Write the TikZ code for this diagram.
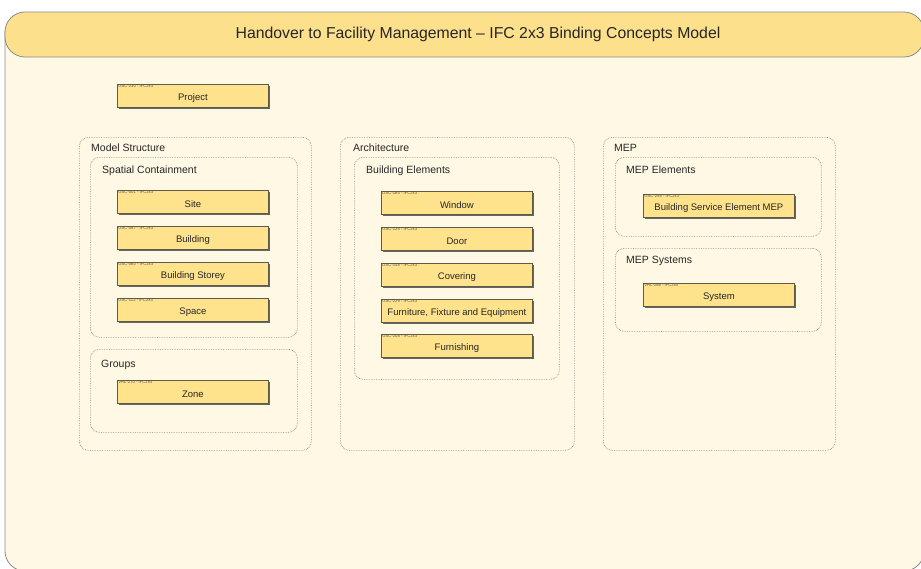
\documentclass[tikz,border=0pt]{standalone}
\usepackage{fontspec}
\setmainfont{Liberation Sans}
\usetikzlibrary{shadows}
\definecolor{bgcream}{HTML}{FFF8E4}
\definecolor{headyellow}{HTML}{FDE08C}
\definecolor{boxyellow}{HTML}{FFE28C}
\definecolor{boxline}{HTML}{5E5C48}
\definecolor{frameline}{HTML}{8A8A8A}
\definecolor{dotline}{HTML}{8C8C8C}
\definecolor{codegray}{HTML}{5A5A5A}
\tikzset{
  frame/.style={draw=frameline, line width=0.8pt, fill=bgcream},
  header/.style={draw=frameline, line width=0.8pt, fill=headyellow},
  title/.style={font=\fontsize{15.8}{18}\selectfont, text=black!85},
  group/.style={draw=dotline, densely dotted, line width=0.7pt, rounded corners=9pt,
    fill=bgcream, anchor=north west, inner sep=0pt},
  grouplabel/.style={font=\fontsize{10.5}{12}\selectfont, text=black!85, anchor=base west, inner sep=0pt},
  elembox/.style={draw=boxline, line width=0.8pt, fill=boxyellow, anchor=north west,
    minimum width=151pt, minimum height=23pt, inner sep=0pt,
    drop shadow={shadow xshift=1.3pt, shadow yshift=-1.3pt, fill=black!60, opacity=1}},
  elemname/.style={font=\fontsize{9.5}{11}\selectfont, text=black!85, inner sep=0pt},
  elemcode/.style={font=\fontsize{4.2}{5}\selectfont, text=codegray, anchor=north west, inner sep=0pt}
}
% one binding concept: name, top-left x, top-left y, code, label
\newcommand\fmbox[5]{%
  \node[elembox] (#1) at (#2,#3) {};
  \node[elemcode] (#1-code) at ([shift={(1.2pt,-0.8pt)}]#1.north west) {#4};
  \node[elemname] (#1-name) at ([yshift=-2.6pt]#1.center) {#5};
}
\begin{document}
\begin{tikzpicture}[x=1pt,y=-1pt]
\useasboundingbox (0,0) rectangle (921,568);
\begin{scope}
\clip (0,0) rectangle (921,568);
% outer frame and title band
\draw[frame, rounded corners=20pt] (5,14) rectangle (924,571);
\draw[header, rounded corners=20pt] (5,12) rectangle (924,57);
\end{scope}
\node[title] (title) at (478,34.5) {Handover to Facility Management – IFC 2x3 Binding Concepts Model};

% project
\fmbox{project}{117}{84}{GSC-230 - IFC2x3}{Project}

% model structure column
\node[group, minimum width=232pt, minimum height=313pt] (model) at (79,137) {};
\node[grouplabel] (model-label) at (91,151) {Model Structure};
\node[group, minimum width=207pt, minimum height=180pt] (spatial) at (90,157) {};
\node[grouplabel] (spatial-label) at (102,173) {Spatial Containment};
\fmbox{site}{117}{190}{GSC-001 - IFC2x3}{Site}
\fmbox{building}{117}{226}{GSC-087 - IFC2x3}{Building}
\fmbox{storey}{117}{262}{GSC-060 - IFC2x3}{Building Storey}
\fmbox{space}{117}{298}{GSC-112 - IFC2x3}{Space}
\node[group, minimum width=207pt, minimum height=83pt] (groups) at (90,349) {};
\node[grouplabel] (groups-label) at (101,367) {Groups};
\fmbox{zone}{117}{380}{VRL-270 - IFC2x3}{Zone}

% architecture column
\node[group, minimum width=234pt, minimum height=313pt] (arch) at (340,137) {};
\node[grouplabel] (arch-label) at (353,151) {Architecture};
\node[group, minimum width=205pt, minimum height=222pt] (belem) at (354,157) {};
\node[grouplabel] (belem-label) at (366,173) {Building Elements};
\fmbox{window}{381}{191}{GSC-164 - IFC2x3}{Window}
\fmbox{door}{381}{227}{GSC-125 - IFC2x3}{Door}
\fmbox{covering}{381}{263}{GSC-148 - IFC2x3}{Covering}
\fmbox{ffe}{381}{299}{GSC-229 - IFC2x3}{Furniture, Fixture and Equipment}
\fmbox{furnishing}{381}{334}{GSC-208 - IFC2x3}{Furnishing}

% MEP column
\node[group, minimum width=232pt, minimum height=313pt] (mep) at (603,137) {};
\node[grouplabel] (mep-label) at (614,151) {MEP};
\node[group, minimum width=206pt, minimum height=79pt] (mepel) at (615,157) {};
\node[grouplabel] (mepel-label) at (626,173) {MEP Elements};
\fmbox{bse}{643}{194}{GSC-258 - IFC2x3}{Building Service Element MEP}
\node[group, minimum width=206pt, minimum height=83pt] (mepsys) at (615,248) {};
\node[grouplabel] (mepsys-label) at (626,263) {MEP Systems};
\fmbox{system}{643}{283}{VRL-266 - IFC2x3}{System}
\end{tikzpicture}
\end{document}
